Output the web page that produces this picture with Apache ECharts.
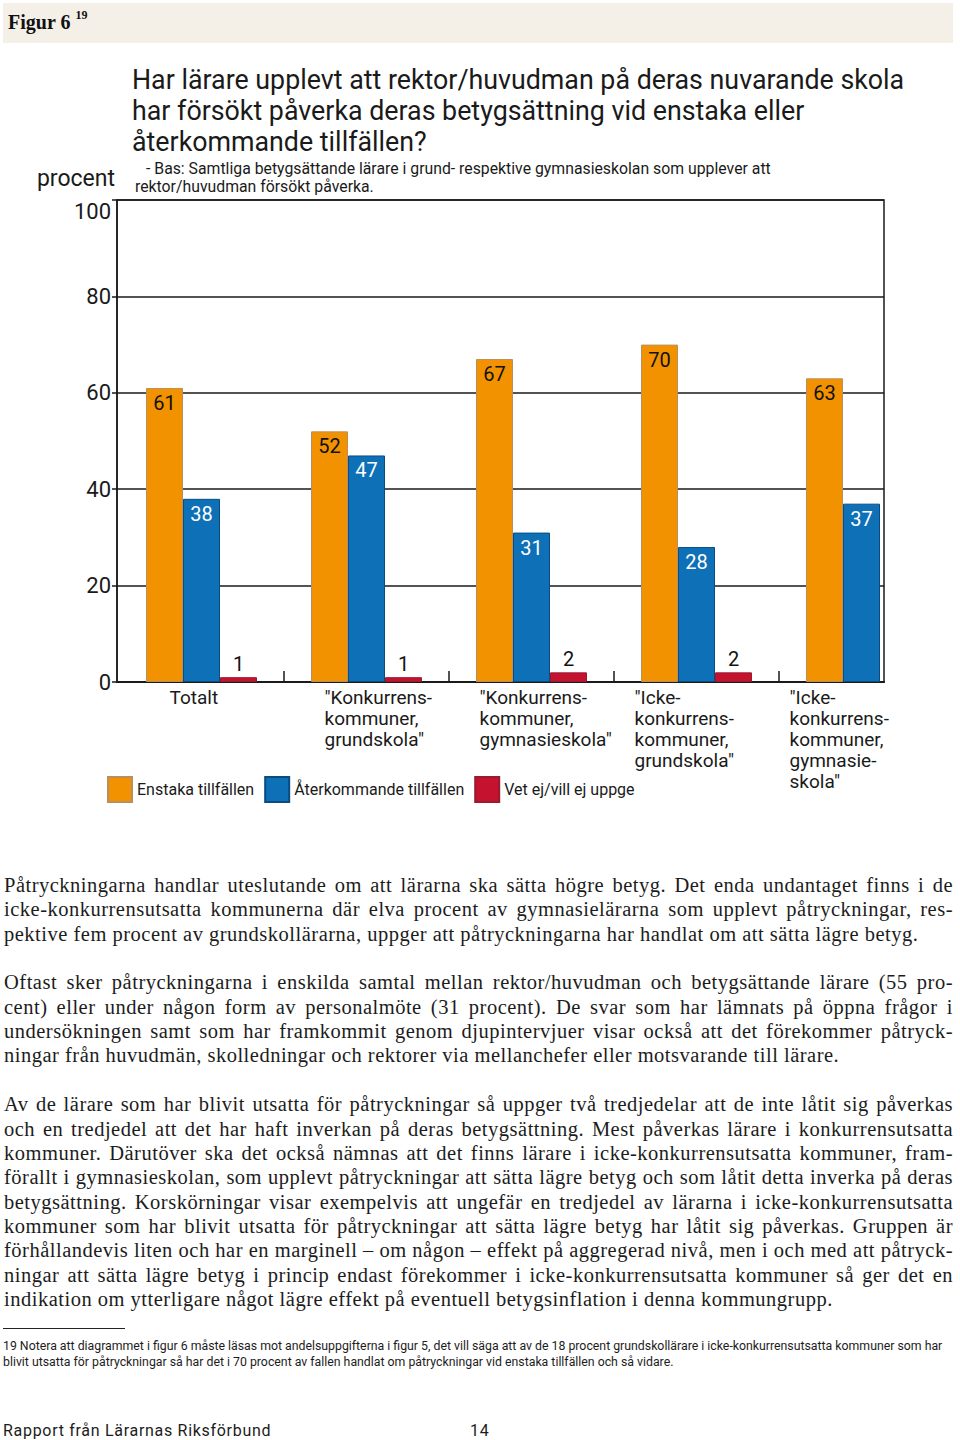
<!DOCTYPE html>
<html lang="sv">
<head>
<meta charset="utf-8">
<title>Figur 6</title>
<script src="https://cdn.jsdelivr.net/npm/echarts@6/dist/echarts.min.js"></script>
<style>
  html, body { margin: 0; padding: 0; background: #fff; overflow: hidden; }
  #page { position: relative; width: 960px; height: 1440px; overflow: hidden; }
  #chart { position: absolute; left: 0; top: 0; width: 1200px; height: 1440px; }
  .band { position: absolute; left: 3px; top: 3px; width: 950px; height: 40px; background: #f4efe7; }
  .band span { position: absolute; left: 5px; top: 7px; font-family: "Liberation Serif", "DejaVu Serif", serif; font-weight: bold; font-size: 20px; color: #111; }
  .band sup { font-size: 12px; position: relative; top: -2px; margin-left: 5px; }
  .ln { position: absolute; left: 4px; width: 949px; height: 24px; line-height: 24px; white-space: nowrap;
        font-family: "Liberation Serif", "DejaVu Serif", serif; font-size: 20.5px; letter-spacing: 0.5px; color: #1c1c1c;
        text-align: justify; text-align-last: justify; }
  .ln.last { text-align: left; text-align-last: left; }
  .fn { position: absolute; left: 3px; white-space: nowrap; font-family: Roboto, "Liberation Sans", sans-serif; font-size: 12.3px; color: #1c1c1c; line-height: 16px; }
  .rule { position: absolute; left: 3px; top: 1328px; width: 122px; height: 0; border-top: 1px solid #222; }
  .foot { position: absolute; top: 1421px; font-family: Roboto, "Liberation Sans", sans-serif; font-size: 16px; color: #1c1c1c; line-height: 20px; letter-spacing: 0.7px; }
</style>
</head>
<body>
<div id="page">
  <div id="chart"></div>
  <div class="band"><span>Figur 6<sup>19</sup></span></div>

  <div class="ln" style="top:873px">Påtryckningarna handlar uteslutande om att lärarna ska sätta högre betyg. Det enda undantaget finns i de</div>
  <div class="ln" style="top:897px">icke-konkurrensutsatta kommunerna där elva procent av gymnasielärarna som upplevt påtryckningar, res-</div>
  <div class="ln last" style="top:922px">pektive fem procent av grundskollärarna, uppger att påtryckningarna har handlat om att sätta lägre betyg.</div>

  <div class="ln" style="top:970px">Oftast sker påtryckningarna i enskilda samtal mellan rektor/huvudman och betygsättande lärare (55 pro-</div>
  <div class="ln" style="top:995px">cent) eller under någon form av personalmöte (31 procent). De svar som har lämnats på öppna frågor i</div>
  <div class="ln" style="top:1019px">undersökningen samt som har framkommit genom djupintervjuer visar också att det förekommer påtryck-</div>
  <div class="ln last" style="top:1043px">ningar från huvudmän, skolledningar och rektorer via mellanchefer eller motsvarande till lärare.</div>

  <div class="ln" style="top:1092px">Av de lärare som har blivit utsatta för påtryckningar så uppger två tredjedelar att de inte låtit sig påverkas</div>
  <div class="ln" style="top:1117px">och en tredjedel att det har haft inverkan på deras betygsättning. Mest påverkas lärare i konkurrensutsatta</div>
  <div class="ln" style="top:1141px">kommuner. Därutöver ska det också nämnas att det finns lärare i icke-konkurrensutsatta kommuner, fram-</div>
  <div class="ln" style="top:1165px">förallt i gymnasieskolan, som upplevt påtryckningar att sätta lägre betyg och som låtit detta inverka på deras</div>
  <div class="ln" style="top:1190px">betygsättning. Korskörningar visar exempelvis att ungefär en tredjedel av lärarna i icke-konkurrensutsatta</div>
  <div class="ln" style="top:1214px">kommuner som har blivit utsatta för påtryckningar att sätta lägre betyg har låtit sig påverkas. Gruppen är</div>
  <div class="ln" style="top:1238px">förhållandevis liten och har en marginell – om någon – effekt på aggregerad nivå, men i och med att påtryck-</div>
  <div class="ln" style="top:1263px">ningar att sätta lägre betyg i princip endast förekommer i icke-konkurrensutsatta kommuner så ger det en</div>
  <div class="ln last" style="top:1287px">indikation om ytterligare något lägre effekt på eventuell betygsinflation i denna kommungrupp.</div>

  <div class="rule"></div>
  <div class="fn" style="top:1338px">19 Notera att diagrammet i figur 6 måste läsas mot andelsuppgifterna i figur 5, det vill säga att av de 18 procent grundskollärare i icke-konkurrensutsatta kommuner som har</div>
  <div class="fn" style="top:1354px">blivit utsatta för påtryckningar så har det i 70 procent av fallen handlat om påtryckningar vid enstaka tillfällen och så vidare.</div>

  <div class="foot" style="left:3px">Rapport från Lärarnas Riksförbund</div>
  <div class="foot" style="left:470px">14</div>
</div>
<script>
// ---- data ----
const categories = [
  'Totalt',
  '"Konkurrens-\nkommuner,\ngrundskola"',
  '"Konkurrens-\nkommuner,\ngymnasieskola"',
  '"Icke-\nkonkurrens-\nkommuner,\ngrundskola"',
  '"Icke-\nkonkurrens-\nkommuner,\ngymnasie-\nskola"'
];
const seriesNames = ['Enstaka tillfällen', 'Återkommande tillfällen', 'Vet ej/vill ej uppge'];
const enstaka = [61, 52, 67, 70, 63];
const aterkommande = [38, 47, 31, 28, 37];
const vetEj = [1, 1, 2, 2, null];
const yMin = 0, yMax = 100, yStep = 20;
const titleText = 'Har lärare upplevt att rektor/huvudman på deras nuvarande skola\nhar försökt påverka deras betygsättning vid enstaka eller\nåterkommande tillfällen?';
const subtitleLines = ['- Bas: Samtliga betygsättande lärare i grund- respektive gymnasieskolan som upplever att', 'rektor/huvudman försökt påverka.'];
const yName = 'procent';

// ---- chart ----
const FONT = 'Roboto, "Liberation Sans", sans-serif';
const INK = '#1a1a1a';
const barSlots = categories.concat(['']); // spacer slot so the band ticks stop inside the frame

const chart = echarts.init(document.getElementById('chart'), null, { renderer: 'svg' });
chart.setOption({
  animation: false,
  backgroundColor: 'transparent',
  textStyle: { fontFamily: FONT },
  title: [
    { text: titleText, left: 127, top: 59, padding: 5,
      textStyle: { fontSize: 26.8, fontWeight: 'normal', lineHeight: 31, color: INK, fontFamily: FONT } },
    { text: '{a|' + subtitleLines[0] + '}\n' + subtitleLines[1], left: 130, top: 154, padding: 5,
      textStyle: { fontSize: 15.8, fontWeight: 'normal', lineHeight: 18, color: INK, fontFamily: FONT,
        rich: { a: { fontSize: 15.8, lineHeight: 18, color: INK, fontFamily: FONT, padding: [0, 0, 0, 11] } } } }
  ],
  legend: {
    data: seriesNames, left: 102, top: 771, icon: 'rect', itemWidth: 24, itemHeight: 25, itemGap: 10,
    textStyle: { fontSize: 16, color: INK, fontFamily: FONT }, selectedMode: false
  },
  grid: [
    { left: 117, top: 200, width: 767, height: 482, show: true, borderColor: INK, borderWidth: 1.5 },
    { left: 119, top: 200, width: 990, height: 482 },
    { left: 92, top: 200, width: 775, height: 482 }
  ],
  xAxis: [
    { gridIndex: 0, type: 'category', data: categories,
      axisLine: { show: true, lineStyle: { color: INK, width: 2 } },
      axisTick: { show: false }, axisLabel: { show: false }, splitLine: { show: false } },
    { gridIndex: 1, type: 'category', data: barSlots,
      axisLine: { show: false },
      axisTick: { show: true, inside: true, length: 11, interval: function (i) { return i >= 1 && i <= 4; },
        lineStyle: { color: INK, width: 1.5 } },
      axisLabel: { show: false }, splitLine: { show: false } },
    { gridIndex: 2, type: 'category', data: categories,
      axisLine: { show: false }, axisTick: { show: false }, splitLine: { show: false },
      axisLabel: { show: true, interval: 0, align: 'left', verticalAlign: 'top', margin: 5,
        fontSize: 19, lineHeight: 21, color: INK, fontFamily: FONT } }
  ],
  yAxis: [
    { gridIndex: 0, type: 'value', min: yMin, max: yMax, interval: yStep,
      name: yName, nameLocation: 'end', nameGap: 22,
      nameTextStyle: { fontSize: 23, color: INK, align: 'right', verticalAlign: 'middle', fontFamily: FONT, padding: [0, 2, 0, 0] },
      axisLine: { show: true, lineStyle: { color: INK, width: 1.5 } },
      axisTick: { show: true, length: 5, lineStyle: { color: INK, width: 1.5 } },
      axisLabel: { fontSize: 22, color: INK, margin: 6, fontFamily: FONT, verticalAlignMaxLabel: 'top' },
      splitLine: { show: true, lineStyle: { color: INK, width: 1.5 } } },
    { gridIndex: 1, type: 'value', min: yMin, max: yMax, show: false },
    { gridIndex: 2, type: 'value', min: yMin, max: yMax, show: false }
  ],
  series: [
    { name: seriesNames[0], type: 'bar', xAxisIndex: 1, yAxisIndex: 1, data: enstaka,
      barWidth: 37, barGap: '0%',
      itemStyle: { color: '#F39200', borderColor: '#b89060', borderWidth: 1 },
      label: { show: true, position: 'insideTop', distance: 5, fontSize: 20, color: '#111', fontFamily: FONT },
      emphasis: { disabled: true } },
    { name: seriesNames[1], type: 'bar', xAxisIndex: 1, yAxisIndex: 1, data: aterkommande,
      barWidth: 37, barGap: '0%',
      itemStyle: { color: '#0E70B6', borderColor: '#0a4c80', borderWidth: 1 },
      label: { show: true, position: 'insideTop', distance: 5, fontSize: 20, color: '#ffffff', fontFamily: FONT },
      emphasis: { disabled: true } },
    { name: seriesNames[2], type: 'bar', xAxisIndex: 1, yAxisIndex: 1, data: vetEj,
      barWidth: 37, barGap: '0%',
      itemStyle: { color: '#C4122F', borderColor: '#9a1a30', borderWidth: 1 },
      label: { show: true, position: 'top', distance: 3, fontSize: 20, color: '#111', fontFamily: FONT },
      emphasis: { disabled: true } }
  ]
});
</script>
</body>
</html>
